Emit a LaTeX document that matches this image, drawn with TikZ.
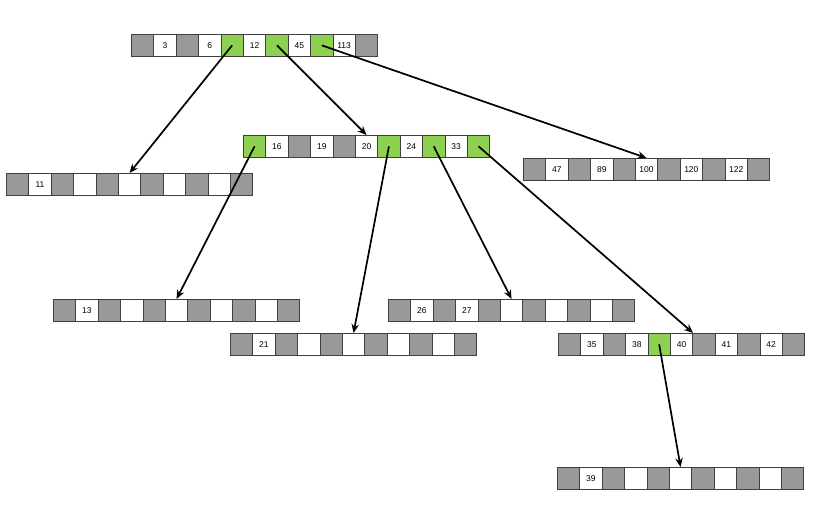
\documentclass[tikz,border=0pt]{standalone}
\usepackage{fontspec}
\setmainfont{Liberation Sans}
\usetikzlibrary{arrows.meta}
\definecolor{cg}{HTML}{999999}
\definecolor{cgr}{HTML}{8ED150}
\definecolor{cw}{HTML}{FFFFFF}
\tikzset{
  cell/.style={draw=black!75,line width=0.7pt,minimum width=22.4pt,minimum height=22pt,
    inner sep=0pt,anchor=north west,font=\fontsize{8.5}{10}\selectfont},
  ptr/.style={draw=black,line width=1.7pt,-{Stealth[length=9pt,width=7.5pt]}}
}
\newcommand\btnode[4]{%
  \foreach [count=\i from 0] \c/\t in {#4} {
    \node[cell,fill=\c] (#1-\i) at (#2+\i*22.4,#3) {\t};
  }%
}
\begin{document}
\begin{tikzpicture}[x=1pt,y=-1pt]
\useasboundingbox (0,0) rectangle (813,524);
\btnode{r}{131}{34}{cg/,cw/3,cg/,cw/6,cgr/,cw/12,cgr/,cw/45,cgr/,cw/113,cg/}
\btnode{s}{243}{135}{cgr/,cw/16,cg/,cw/19,cg/,cw/20,cgr/,cw/24,cgr/,cw/33,cgr/}
\btnode{a}{6}{173}{cg/,cw/11,cg/,cw/,cg/,cw/,cg/,cw/,cg/,cw/,cg/}
\btnode{b}{523}{158}{cg/,cw/47,cg/,cw/89,cg/,cw/100,cg/,cw/120,cg/,cw/122,cg/}
\btnode{c}{53}{299}{cg/,cw/13,cg/,cw/,cg/,cw/,cg/,cw/,cg/,cw/,cg/}
\btnode{d}{230}{333}{cg/,cw/21,cg/,cw/,cg/,cw/,cg/,cw/,cg/,cw/,cg/}
\btnode{e}{388}{299}{cg/,cw/26,cg/,cw/27,cg/,cw/,cg/,cw/,cg/,cw/,cg/}
\btnode{f}{558}{333}{cg/,cw/35,cg/,cw/38,cgr/,cw/40,cg/,cw/41,cg/,cw/42,cg/}
\btnode{g}{557}{467}{cg/,cw/39,cg/,cw/,cg/,cw/,cg/,cw/,cg/,cw/,cg/}
\draw[ptr] (r-4.center) -- (a-5.north);
\draw[ptr] (r-6.center) -- (s-5.north);
\draw[ptr] (r-8.center) -- (b-5.north);
\draw[ptr] (s-0.center) -- (c-5.north);
\draw[ptr] (s-6.center) -- (d-5.north);
\draw[ptr] (s-8.center) -- (e-5.north);
\draw[ptr] (s-10.center) -- (f-5.north east);
\draw[ptr] (f-4.center) -- (g-5.north);
\end{tikzpicture}
\end{document}
